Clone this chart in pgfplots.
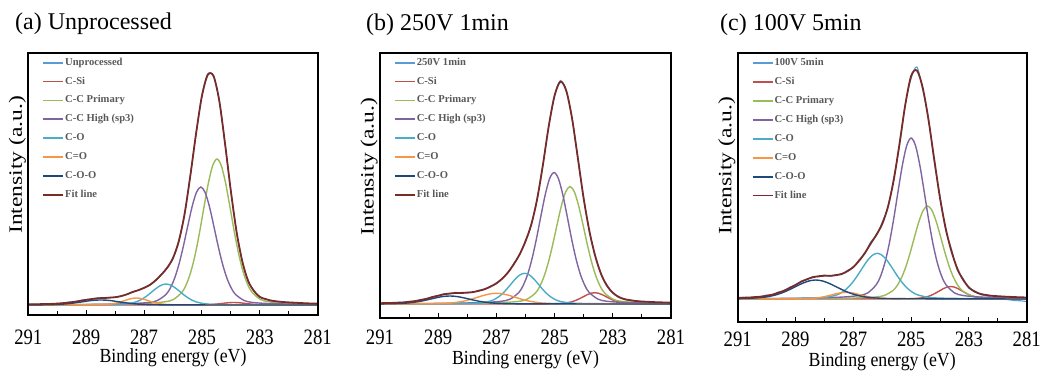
\documentclass[border=0pt]{standalone}
\usepackage{fontspec}
\setmainfont{Liberation Serif}
\newfontfamily\tickfont[FakeStretch=0.85]{Liberation Serif}
\newfontfamily\xlabfont[FakeStretch=0.89]{Liberation Serif}
\usepackage{graphicx}
\usepackage{pgfplots}
\pgfplotsset{compat=1.18}
\definecolor{cdata}{RGB}{91,155,213}
\definecolor{csi}{RGB}{192,80,77}
\definecolor{cprim}{RGB}{155,187,89}
\definecolor{chigh}{RGB}{128,100,162}
\definecolor{cco}{RGB}{75,172,198}
\definecolor{cdo}{RGB}{247,150,70}
\definecolor{coo}{RGB}{31,73,125}
\definecolor{cfit}{RGB}{119,44,42}
\definecolor{legtext}{RGB}{89,89,89}
\pgfplotsset{
  xps/.style={
    scale only axis,
    x dir=reverse, xmin=281, xmax=291,
    xtick={281,283,285,287,289,291},
    minor x tick num=1,
    xtick pos=bottom,
    ytick=\empty,
    tick align=inside,
    major tick length=5bp, minor tick length=4bp,
    every tick/.style={black, line width=0.9bp},
    axis line style={line width=1.8bp, black},
    /pgf/number format/assume math mode=true,
    xticklabel style={font=\tickfont\fontsize{22bp}{22bp}\selectfont, anchor=center},
    xlabel={Binding energy (eV)},
    ylabel={\scalebox{1}[0.8]{Intensity (a.u.)}},
    xlabel style={font=\xlabfont\fontsize{20bp}{20bp}\selectfont, at={(axis description cs:0.5,0)}, anchor=center},
    ylabel style={font=\fontsize{23.5bp}{23.5bp}\selectfont, anchor=center},
    legend cell align=left,
    legend style={draw=none, fill=none, at={(0,1)}, anchor=north west, xshift=14bp, yshift=-4.5bp,
      inner sep=0pt, outer sep=0pt, font=\fontsize{10.6bp}{10.6bp}\selectfont\bfseries, text=legtext,
      row sep=7.9bp, nodes={inner sep=1bp, text height=7bp, text depth=2bp}},
    legend image code/.code={\draw[#1, line width=1.8bp] (0bp,0bp) -- (20bp,0bp);},
  },
  dat/.style={color=cdata, line width=1.1bp, smooth},
  comp/.style={line width=1.4bp, smooth},
  fit/.style={color=cfit, line width=1.8bp, smooth},
}
\tikzset{boxframe/.style={line width=1.8bp, black}}
\begin{document}
\begin{tikzpicture}
\useasboundingbox (0,0) rectangle (1052bp,374bp);
% ---------------- (a) ----------------
\begin{axis}[xps, at={(28.3bp,59bp)}, anchor=south west, width=289.4bp, height=262.3bp,
  ymin=-10, ymax=252.3,
  xticklabel style={yshift=-22bp}, xlabel style={yshift=-43bp},
  ylabel style={at={(axis description cs:0,0.572)}, yshift=11bp}]
\addplot[dat] coordinates {(291.0,0.3)(290.8,0.9)(290.6,0.6)(290.4,1.2)(290.2,0.9)(290.0,1.6)(289.8,1.7)(289.6,2.8)(289.4,3.0)(289.2,4.5)(289.0,5.4)(288.8,5.8)(288.6,7.0)(288.4,6.8)(288.2,7.6)(288.0,7.6)(287.8,9.2)(287.6,10.4)(287.4,13.3)(287.2,14.6)(287.0,17.5)(286.8,19.8)(286.6,25.2)(286.4,30.2)(286.2,37.8)(286.0,46.5)(285.8,64.5)(285.6,90.4)(285.4,129.8)(285.2,171.4)(285.0,209.9)(284.8,231.0)(284.6,228.6)(284.4,204.5)(284.2,160.0)(284.0,114.0)(283.8,72.0)(283.6,43.5)(283.4,23.4)(283.2,14.4)(283.0,7.7)(282.8,6.2)(282.6,4.0)(282.4,3.2)(282.2,2.4)(282.0,1.8)(281.8,1.2)(281.6,0.9)(281.4,0.4)(281.2,0.6)(281.0,0.2)};
\addlegendentry{Unprocessed}
\addplot[comp, color=csi] coordinates {(291.5,0)(286.9,0.01)(285.9,0.03)(285.4,0.05)(285.15,0.10)(284.9,0.23)(284.775,0.36)(284.65,0.57)(284.525,0.87)(284.4,1.25)(284.275,1.67)(284.15,2.08)(284.025,2.39)(283.9,2.5)(283.775,2.39)(283.65,2.08)(283.525,1.67)(283.4,1.25)(283.275,0.87)(283.15,0.57)(283.025,0.36)(282.9,0.23)(282.65,0.10)(282.4,0.05)(281.9,0.03)(280.9,0.01)(280.5,0)};
\addlegendentry{C-Si}
\addplot[comp, color=cprim] coordinates {(291.5,0)(288.08,0.8)(286.88,1.7)(286.28,3.2)(285.98,5.6)(285.68,13.1)(285.53,21.2)(285.38,33.5)(285.23,50.9)(285.08,73.0)(284.93,97.8)(284.78,121.6)(284.63,139.3)(284.48,146)(284.33,139.3)(284.18,121.6)(284.03,97.8)(283.88,73.0)(283.73,50.9)(283.58,33.5)(283.43,21.2)(283.28,13.1)(282.98,5.6)(282.68,3.2)(282.08,1.7)(280.88,0.8)(280.5,0)};
\addlegendentry{C-C Primary}
\addplot[comp, color=chigh] coordinates {(291.5,0)(288.64,0.6)(287.44,1.4)(286.84,2.5)(286.54,4.5)(286.24,10.6)(286.09,17.1)(285.94,27.1)(285.79,41.2)(285.64,59.0)(285.49,79.0)(285.34,98.3)(285.19,112.6)(285.04,118)(284.89,112.6)(284.74,98.3)(284.59,79.0)(284.44,59.0)(284.29,41.2)(284.14,27.1)(283.99,17.1)(283.84,10.6)(283.54,4.5)(283.24,2.5)(282.64,1.4)(281.44,0.6)(280.5,0)};
\addlegendentry{C-C High (sp3)}
\addplot[comp, color=cco] coordinates {(291.5,0)(289.84,0.1)(288.64,0.2)(288.04,0.5)(287.74,0.8)(287.44,1.9)(287.29,3.0)(287.14,4.8)(286.99,7.3)(286.84,10.5)(286.69,14.1)(286.54,17.5)(286.39,20.0)(286.24,21)(286.09,20.0)(285.94,17.5)(285.79,14.1)(285.64,10.5)(285.49,7.3)(285.34,4.8)(285.19,3.0)(285.04,1.9)(284.74,0.8)(284.44,0.5)(283.84,0.2)(282.64,0.1)(280.5,0)};
\addlegendentry{C-O}
\addplot[comp, color=cdo] coordinates {(291.5,0)(290.27,0.04)(289.27,0.1)(288.77,0.15)(288.52,0.3)(288.27,0.6)(288.145,1.0)(288.02,1.6)(287.895,2.4)(287.77,3.5)(287.645,4.7)(287.52,5.8)(287.395,6.7)(287.27,7)(287.145,6.7)(287.02,5.8)(286.895,4.7)(286.77,3.5)(286.645,2.4)(286.52,1.6)(286.395,1.0)(286.27,0.6)(286.02,0.3)(285.77,0.15)(285.27,0.1)(284.27,0.04)(280.5,0)};
\addlegendentry{C=O}
\addplot[comp, color=coo] coordinates {(293.3,0.03)(291.7,0.06)(290.9,0.1)(290.5,0.2)(290.1,0.45)(289.9,0.7)(289.7,1.1)(289.5,1.7)(289.3,2.5)(289.1,3.3)(288.9,4.2)(288.7,4.8)(288.5,5)(288.3,4.8)(288.1,4.2)(287.9,3.3)(287.7,2.5)(287.5,1.7)(287.3,1.1)(287.1,0.7)(286.9,0.45)(286.5,0.2)(286.1,0.1)(285.3,0.06)(283.7,0.03)(280.5,0)};
\addlegendentry{C-O-O}
\addplot[fit] coordinates {(291.0,0.7)(290.8,0.8)(290.6,0.85)(290.4,1.0)(290.2,1.1)(290.0,1.4)(289.8,1.85)(289.6,2.5)(289.4,3.2)(289.2,4.2)(289.0,5.15)(288.8,6.0)(288.6,6.7)(288.4,7.0)(288.2,7.3)(288.0,7.8)(287.8,8.8)(287.6,10.6)(287.4,12.9)(287.2,14.8)(287.0,17.1)(286.8,20.1)(286.6,24.6)(286.4,30.5)(286.2,37.2)(286.0,47.0)(285.8,63.7)(285.6,91.0)(285.4,129.5)(285.2,172.0)(285.0,209.0)(284.8,230.0)(284.6,229.0)(284.4,204.0)(284.2,161.0)(284.0,113.8)(283.8,72.7)(283.6,42.9)(283.4,23.9)(283.2,13.9)(283.0,8.1)(282.8,5.9)(282.6,4.4)(282.4,3.6)(282.2,3.0)(282.0,2.6)(281.8,2.3)(281.6,2.0)(281.4,1.7)(281.2,1.5)(281.0,1.35)};
\addlegendentry{Fit line}
\end{axis}
\draw[boxframe] (28.3bp,59bp) -- (317.7bp,59bp) -- (317.7bp,321.3bp) -- (28.3bp,321.3bp) -- cycle;
% ---------------- (b) ----------------
\begin{axis}[xps, at={(380bp,55.7bp)}, anchor=south west, width=291bp, height=265.6bp,
  ymin=-14.3, ymax=251.3,
  xticklabel style={yshift=-19bp}, xlabel style={yshift=-41.7bp},
  ylabel style={at={(axis description cs:0,0.571)}, yshift=10.8bp}]
\addplot[dat] coordinates {(291.0,0.2)(290.8,1.2)(290.6,0.8)(290.4,1.6)(290.2,1.4)(290.0,2.5)(289.8,2.7)(289.6,4.4)(289.4,5.0)(289.2,7.4)(289.0,8.0)(288.8,10.3)(288.6,10.1)(288.4,11.6)(288.2,10.8)(288.0,11.8)(287.8,11.6)(287.6,13.8)(287.4,14.5)(287.2,18.0)(287.0,20.3)(286.8,25.9)(286.6,31.2)(286.4,40.6)(286.2,49.2)(286.0,63.5)(285.8,79.0)(285.6,105.6)(285.4,139.0)(285.2,178.4)(285.0,208.0)(284.8,223.5)(284.6,212.5)(284.4,186.0)(284.2,145.0)(284.0,106.0)(283.8,71.6)(283.6,48.3)(283.4,29.2)(283.2,18.9)(283.0,10.8)(282.8,7.5)(282.6,4.4)(282.4,3.5)(282.2,2.4)(282.0,2.0)(281.8,1.4)(281.6,1.0)(281.4,0.5)(281.2,0.2)(281.0,-0.3)};
\addlegendentry{250V 1min}
\addplot[comp, color=csi] coordinates {(291.5,0)(286.62,0.06)(285.62,0.13)(285.12,0.24)(284.87,0.43)(284.62,1.02)(284.495,1.64)(284.37,2.60)(284.245,3.94)(284.12,5.65)(283.995,7.57)(283.87,9.41)(283.745,10.78)(283.62,11.3)(283.495,10.78)(283.37,9.41)(283.245,7.57)(283.12,5.65)(282.995,3.94)(282.87,2.60)(282.745,1.64)(282.62,1.02)(282.37,0.43)(282.12,0.24)(281.62,0.13)(280.62,0.06)(280.5,0)};
\addlegendentry{C-Si}
\addplot[comp, color=cprim] coordinates {(291.5,0)(288.07,0.63)(286.87,1.4)(286.27,2.5)(285.97,4.5)(285.67,10.6)(285.52,17.0)(285.37,27.0)(285.22,41.0)(285.07,58.75)(284.92,78.7)(284.77,97.8)(284.62,112.1)(284.47,117.5)(284.32,112.1)(284.17,97.8)(284.02,78.7)(283.87,58.75)(283.72,41.0)(283.57,27.0)(283.42,17.0)(283.27,10.6)(282.97,4.5)(282.67,2.5)(282.07,1.4)(280.87,0.63)(280.5,0)};
\addlegendentry{C-C Primary}
\addplot[comp, color=chigh] coordinates {(291.5,0)(288.62,0.71)(287.42,1.55)(286.82,2.8)(286.52,5.0)(286.22,11.8)(286.07,19.1)(285.92,30.2)(285.77,45.9)(285.62,65.75)(285.47,88.1)(285.32,109.5)(285.17,125.5)(285.02,131.5)(284.87,125.5)(284.72,109.5)(284.57,88.1)(284.42,65.75)(284.27,45.9)(284.12,30.2)(283.97,19.1)(283.82,11.8)(283.52,5.0)(283.22,2.8)(282.62,1.55)(281.42,0.71)(280.5,0)};
\addlegendentry{C-C High (sp3)}
\addplot[comp, color=cco] coordinates {(291.5,0)(289.63,0.17)(288.43,0.36)(287.83,0.66)(287.53,1.17)(287.23,2.76)(287.08,4.45)(286.93,7.05)(286.78,10.7)(286.63,15.35)(286.48,20.6)(286.33,25.6)(286.18,29.3)(286.03,30.7)(285.88,29.3)(285.73,25.6)(285.58,20.6)(285.43,15.35)(285.28,10.7)(285.13,7.05)(284.98,4.45)(284.83,2.76)(284.53,1.17)(284.23,0.66)(283.63,0.36)(282.43,0.17)(280.5,0)};
\addlegendentry{C-O}
\addplot[comp, color=cdo] coordinates {(291.8,0.06)(290.2,0.13)(289.4,0.23)(289.0,0.41)(288.6,0.96)(288.4,1.55)(288.2,2.46)(288.0,3.73)(287.8,5.35)(287.6,7.16)(287.4,8.91)(287.2,10.2)(287.0,10.7)(286.8,10.2)(286.6,8.91)(286.4,7.16)(286.2,5.35)(286.0,3.73)(285.8,2.46)(285.6,1.55)(285.4,0.96)(285.0,0.41)(284.6,0.23)(283.8,0.13)(282.2,0.06)(280.5,0)};
\addlegendentry{C=O}
\addplot[comp, color=coo] coordinates {(293.4,0.04)(291.8,0.09)(291.0,0.17)(290.6,0.30)(290.2,0.72)(290.0,1.16)(289.8,1.84)(289.6,2.79)(289.4,4.0)(289.2,5.36)(289.0,6.66)(288.8,7.63)(288.6,8)(288.4,7.63)(288.2,6.66)(288.0,5.36)(287.8,4.0)(287.6,2.79)(287.4,1.84)(287.2,1.16)(287.0,0.72)(286.6,0.30)(286.2,0.17)(285.4,0.09)(283.8,0.04)(280.5,0)};
\addlegendentry{C-O-O}
\addplot[fit] coordinates {(291.0,0.8)(290.8,0.95)(290.6,1.07)(290.4,1.3)(290.2,1.63)(290.0,2.2)(289.8,2.9)(289.6,4.0)(289.4,5.25)(289.2,6.9)(289.0,8.36)(288.8,9.7)(288.6,10.5)(288.4,11.0)(288.2,11.1)(288.0,11.3)(287.8,11.97)(287.6,13.2)(287.4,14.9)(287.2,17.4)(287.0,20.7)(286.8,25.3)(286.6,31.7)(286.4,39.9)(286.2,49.8)(286.0,62.7)(285.8,79.7)(285.6,104.8)(285.4,139.5)(285.2,178.0)(285.0,208.5)(284.8,222.3)(284.6,213.5)(284.4,185.5)(284.2,145.8)(284.0,105.2)(283.8,72.4)(283.6,47.5)(283.4,29.9)(283.2,18.2)(283.0,11.3)(282.8,7.0)(282.6,4.9)(282.4,3.8)(282.2,3.0)(282.0,2.5)(281.8,2.2)(281.6,1.9)(281.4,1.7)(281.2,1.5)(281.0,1.3)};
\addlegendentry{Fit line}
\end{axis}
\draw[boxframe] (380bp,55.7bp) -- (671bp,55.7bp) -- (671bp,321.3bp) -- (380bp,321.3bp) -- cycle;
% ---------------- (c) ----------------
\begin{axis}[xps, at={(737.7bp,52.3bp)}, anchor=south west, width=289bp, height=268.4bp,
  ymin=-22.7, ymax=245.7,
  xticklabel style={yshift=-17.3bp}, xlabel style={yshift=-40bp},
  ylabel style={at={(axis description cs:0,0.581)}, yshift=10.7bp}]
\addplot[dat] coordinates {(291.0,0.5)(290.8,1.8)(290.6,0.9)(290.4,2.4)(290.2,2.0)(290.0,3.9)(289.8,4.0)(289.6,6.9)(289.4,7.8)(289.2,11.8)(289.0,13.6)(288.8,18.0)(288.6,19.3)(288.4,22.5)(288.2,22.2)(288.0,24.0)(287.8,22.6)(287.6,24.6)(287.4,24.5)(287.2,28.7)(287.0,31.4)(286.8,39.2)(286.6,45.2)(286.4,57.0)(286.2,63.5)(286.0,76.8)(285.8,91.5)(285.6,121.0)(285.4,153.5)(285.2,194.5)(285.0,220.5)(284.8,232.0)(284.6,209.5)(284.4,180.5)(284.2,137.5)(284.0,103.0)(283.8,68.5)(283.6,49.5)(283.4,29.0)(283.2,20.5)(283.0,10.6)(282.8,8.2)(282.6,4.4)(282.4,3.3)(282.2,1.8)(282.0,1.2)(281.8,-0.2)(281.6,-0.8)(281.4,-1.6)(281.2,-1.8)(281.0,-2.6)};
\addlegendentry{100V 5min}
\addplot[comp, color=csi] coordinates {(291.5,0)(286.63,0.07)(285.63,0.15)(285.13,0.27)(284.88,0.48)(284.63,1.13)(284.505,1.81)(284.38,2.87)(284.255,4.36)(284.13,6.25)(284.005,8.37)(283.88,10.41)(283.755,11.93)(283.63,12.5)(283.505,11.93)(283.38,10.41)(283.255,8.37)(283.13,6.25)(283.005,4.36)(282.88,2.87)(282.755,1.81)(282.63,1.13)(282.38,0.48)(282.13,0.27)(281.63,0.15)(280.63,0.07)(280.5,0)};
\addlegendentry{C-Si}
\addplot[comp, color=cprim] coordinates {(291.5,0)(288.03,0.5)(286.83,1.1)(286.23,2.0)(285.93,3.5)(285.63,8.4)(285.48,13.5)(285.33,21.4)(285.18,32.4)(285.03,46.5)(284.88,62.3)(284.73,77.4)(284.58,88.7)(284.43,93)(284.28,88.7)(284.13,77.4)(283.98,62.3)(283.83,46.5)(283.68,32.4)(283.53,21.4)(283.38,13.5)(283.23,8.4)(282.93,3.5)(282.63,2.0)(282.03,1.1)(280.83,0.5)(280.5,0)};
\addlegendentry{C-C Primary}
\addplot[comp, color=chigh] coordinates {(291.5,0)(288.6,0.87)(287.4,1.9)(286.8,3.5)(286.5,6.1)(286.2,14.5)(286.05,23.3)(285.9,37.0)(285.75,56.2)(285.6,80.5)(285.45,107.8)(285.3,134.1)(285.15,153.6)(285.0,161)(284.85,153.6)(284.7,134.1)(284.55,107.8)(284.4,80.5)(284.25,56.2)(284.1,37.0)(283.95,23.3)(283.8,14.5)(283.5,6.1)(283.2,3.5)(282.6,1.9)(281.4,0.87)(280.5,0)};
\addlegendentry{C-C High (sp3)}
\addplot[comp, color=cco] coordinates {(291.5,0)(290.37,0.25)(288.97,0.54)(288.27,0.99)(287.92,1.74)(287.57,4.1)(287.395,6.6)(287.22,10.5)(287.045,15.9)(286.87,22.85)(286.695,30.6)(286.52,38.1)(286.345,43.6)(286.17,45.7)(285.995,43.6)(285.82,38.1)(285.645,30.6)(285.47,22.85)(285.295,15.9)(285.12,10.5)(284.945,6.6)(284.77,4.1)(284.42,1.74)(284.07,0.99)(283.37,0.54)(281.97,0.25)(280.5,0)};
\addlegendentry{C-O}
\addplot[comp, color=cdo] coordinates {(291.5,0)(290.85,0.04)(289.65,0.08)(289.05,0.14)(288.75,0.26)(288.45,0.60)(288.3,0.97)(288.15,1.54)(288.0,2.34)(287.85,3.35)(287.7,4.49)(287.55,5.58)(287.4,6.4)(287.25,6.7)(287.1,6.4)(286.95,5.58)(286.8,4.49)(286.65,3.35)(286.5,2.34)(286.35,1.54)(286.2,0.97)(286.05,0.60)(285.75,0.26)(285.45,0.14)(284.85,0.08)(283.65,0.04)(280.5,0)};
\addlegendentry{C=O}
\addplot[comp, color=coo] coordinates {(293.7,0.10)(291.9,0.22)(291.0,0.41)(290.55,0.72)(290.1,1.71)(289.875,2.76)(289.65,4.36)(289.425,6.6)(289.2,9.5)(288.975,12.7)(288.75,15.8)(288.525,18.1)(288.3,19)(288.075,18.1)(287.85,15.8)(287.625,12.7)(287.4,9.5)(287.175,6.6)(286.95,4.36)(286.725,2.76)(286.5,1.71)(286.05,0.72)(285.6,0.41)(284.7,0.22)(282.9,0.10)(280.5,0)};
\addlegendentry{C-O-O}
\addplot[fit] coordinates {(291.0,1.1)(290.8,1.3)(290.6,1.5)(290.4,1.9)(290.2,2.4)(290.0,3.3)(289.8,4.35)(289.6,6.2)(289.4,8.3)(289.2,11.1)(289.0,14.1)(288.8,17.3)(288.6,19.8)(288.4,21.7)(288.2,22.8)(288.0,23.2)(287.8,23.2)(287.6,23.8)(287.4,25.1)(287.2,27.8)(287.0,32.0)(286.8,38.2)(286.6,46.0)(286.4,55.3)(286.2,64.3)(286.0,75.0)(285.8,92.4)(285.6,119.1)(285.4,155.5)(285.2,194.5)(285.0,223.0)(284.8,228.5)(284.6,211.5)(284.4,179.5)(284.2,139.8)(284.0,100.9)(283.8,70.2)(283.6,47.3)(283.4,30.3)(283.2,19.2)(283.0,11.6)(282.8,7.35)(282.6,5.1)(282.4,4.0)(282.2,3.2)(282.0,2.8)(281.8,2.45)(281.6,2.15)(281.4,1.9)(281.2,1.7)(281.0,1.5)};
\addlegendentry{Fit line}
\end{axis}
\draw[boxframe] (737.7bp,52.3bp) -- (1026.7bp,52.3bp) -- (1026.7bp,320.7bp) -- (737.7bp,320.7bp) -- cycle;
\node[anchor=base west, font=\fontsize{24bp}{24bp}\selectfont, inner sep=0pt] at (15bp,344bp) {(a) Unprocessed};
\node[anchor=base west, font=\fontsize{24bp}{24bp}\selectfont, inner sep=0pt] at (366bp,343.3bp) {(b) 250V 1min};
\node[anchor=base west, font=\fontsize{24bp}{24bp}\selectfont, inner sep=0pt] at (720bp,343.3bp) {(c) 100V 5min};
\end{tikzpicture}
\end{document}
